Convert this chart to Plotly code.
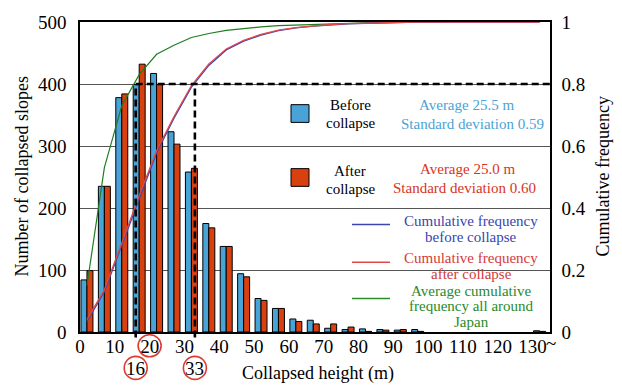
import plotly.graph_objects as go

# Bin centres (m) of the 5 m height classes; the last class collects 130 m and above
bin_centers = [2, 7, 12, 17, 22, 27, 32, 37, 42, 47, 52, 57, 62, 67, 72, 77, 82, 87, 92, 97,
               102, 107, 112, 117, 122, 127, 132]

# Number of collapsed slopes per class
count_before = [84, 235, 378, 399, 417, 323, 258, 175, 138, 94, 54, 38, 21, 19, 6, 4, 5, 4, 3, 4,
                None, None, None, None, None, None, 2]
count_after = [99, 235, 384, 432, 399, 303, 264, 168, 138, 89, 51, 38, 17, 13, 13, 8, 1, 3, 4, 1,
               None, None, None, None, None, None, 1]

# Cumulative frequency curves
cum_before = [0.034, 0.13, 0.28, 0.43, 0.578, 0.69, 0.79, 0.86, 0.91, 0.938, 0.958, 0.972, 0.981,
              0.987, 0.991, 0.994, 0.996, 0.998, 0.999, 1.0, 1.0, 1.0, 1.0, 1.0, 1.0, 1.0, 1.0]
cum_after = [0.04, 0.136, 0.287, 0.44, 0.585, 0.695, 0.795, 0.865, 0.913, 0.941, 0.96, 0.974, 0.982,
             0.988, 0.992, 0.995, 0.997, 0.998, 0.999, 1.0, 1.0, 1.0, 1.0, 1.0, 1.0, 1.0, 1.0]
cum_japan = [0.15, 0.53, 0.73, 0.83, 0.896, 0.925, 0.95, 0.963, 0.973, 0.979, 0.984, 0.988, 0.99,
             0.993, 0.995, 0.996, 0.997, 0.998, 0.999, 1.0, 1.0, 1.0, 1.0, 1.0, 1.0, 1.0, 1.0]

x_tick_vals = [0, 10, 20, 30, 40, 50, 60, 70, 80, 90, 100, 110, 120, 130]
x_tick_text = ["0", "10", "20", "30", "40", "50", "60", "70", "80", "90", "100", "110", "120", "130"]
y_tick_vals = [0, 100, 200, 300, 400, 500]
y2_tick_vals = [0, 0.2, 0.4, 0.6, 0.8, 1.0]
y2_tick_text = ["0", "0.2", "0.4", "0.6", "0.8", "1"]

# Heights where the cumulative frequency reaches 0.8
h80_japan = 16
h80_slopes = 33
cum_level = 0.8

BLUE = "#4aa3d6"
RED = "#d9400f"
FONT = "Times New Roman, Liberation Serif, DejaVu Serif, serif"

W, H = 622, 390
L, R, T, B = 80, 72, 17, 58
PW, PH = W - L - R, H - T - B


def px(x):
    return (x - L) / PW


def py(y):
    return (H - B - y) / PH


bar_w = 1.72
fig = go.Figure()
fig.add_trace(go.Bar(x=bin_centers, y=count_before, width=bar_w, offset=-bar_w,
                     marker=dict(color=BLUE, line=dict(color="black", width=1)), name="Before"))
fig.add_trace(go.Bar(x=bin_centers, y=count_after, width=bar_w, offset=0,
                     marker=dict(color=RED, line=dict(color="black", width=1)), name="After"))
fig.add_trace(go.Scatter(x=bin_centers, y=cum_japan, yaxis="y2", mode="lines",
                         line=dict(color="#1f7d1f", width=1.2)))
fig.add_trace(go.Scatter(x=bin_centers, y=cum_before, yaxis="y2", mode="lines",
                         line=dict(color="#3a45b0", width=1.3)))
fig.add_trace(go.Scatter(x=bin_centers, y=cum_after, yaxis="y2", mode="lines",
                         line=dict(color="#e04848", width=1.3)))

shapes = []
# White panel behind the line legend
shapes.append(dict(type="rect", xref="paper", yref="paper", x0=px(350), x1=px(536),
                   y0=py(326), y1=py(209), fillcolor="white", line=dict(width=0), layer="between"))
# 0.8 reference dashes
dash = dict(color="black", width=2.6, dash="7px,4px")
shapes.append(dict(type="line", xref="x", yref="y2", x0=h80_japan, x1=135, y0=cum_level, y1=cum_level,
                   line=dash, layer="above"))
for h in (h80_japan, h80_slopes):
    shapes.append(dict(type="line", xref="x", yref="paper", x0=h, x1=h, y0=-0.018, y1=cum_level,
                       line=dash, layer="above"))
# Legend squares
shapes.append(dict(type="rect", xref="paper", yref="paper", x0=px(291), x1=px(309), y0=py(119), y1=py(101),
                   fillcolor=BLUE, line=dict(color="black", width=1)))
shapes.append(dict(type="rect", xref="paper", yref="paper", x0=px(291), x1=px(309), y0=py(184), y1=py(166),
                   fillcolor=RED, line=dict(color="black", width=1)))
# Legend line samples
for yy, col in ((222.7, "#3a45b0"), (261, "#e04848"), (298, "#2a8f2a")):
    shapes.append(dict(type="line", xref="paper", yref="paper", x0=px(352), x1=px(390), y0=py(yy), y1=py(yy),
                       line=dict(color=col, width=1.5)))
# Red circles around the highlighted heights
circ = dict(color="#e03a30", width=1.6)
shapes.append(dict(type="circle", xref="x", yref="paper", xsizemode="pixel", ysizemode="pixel",
                   xanchor=20, yanchor=py(346), x0=-11.5, x1=11.5, y0=-11, y1=11, line=circ))
for h in (h80_japan, h80_slopes):
    shapes.append(dict(type="circle", xref="x", yref="paper", xsizemode="pixel", ysizemode="pixel",
                       xanchor=h, yanchor=py(368.5), x0=-11.5, x1=11.5, y0=-11.5, y1=11.5, line=circ))

ann = []


def text(x, y, s, size=15, color="black", angle=0):
    ann.append(dict(x=px(x), y=py(y), xref="paper", yref="paper", text=s, showarrow=False, textangle=angle,
                    font=dict(family=FONT, size=size, color=color), xanchor="center", yanchor="middle"))


text(350, 101, "Before")
text(350, 120, "collapse")
text(466, 101, "Average 25.5 m", color="#4aa3d6")
text(472, 121, "Standard deviation 0.59", color="#4aa3d6")
text(350, 168, "After")
text(350, 187, "collapse")
text(467, 166, "Average 25.0 m", color="#d8341c")
text(464, 186, "Standard deviation 0.60", color="#d8341c")
text(471, 219, "Cumulative frequency", color="#3a45b0")
text(471, 235, "before collapse", color="#3a45b0")
text(471, 257, "Cumulative frequency", color="#d43a3a")
text(471, 273, "after collapse", color="#d43a3a")
text(471, 290, "Average cumulative", color="#2a8a2a")
text(471, 306, "frequency all around", color="#2a8a2a")
text(471, 322, "Japan", color="#2a8a2a")

# Axis titles
text(318, 374, "Collapsed height (m)", size=18)
text(22, 174, "Number of collapsed slopes", size=18, angle=-90)
text(603, 174, "Cumulative frequency", size=18, angle=-90)

for h in (h80_japan, h80_slopes):
    ann.append(dict(x=h, y=py(369), xref="x", yref="paper", text=str(h), showarrow=False,
                    font=dict(family=FONT, size=19, color="black"), xanchor="center", yanchor="middle"))
ann.append(dict(x=130, y=py(344), xref="x", yref="paper", text="~", showarrow=False, xshift=11,
                font=dict(family=FONT, size=19, color="black"), yanchor="middle", xanchor="left"))

tick_font = dict(family=FONT, size=19, color="black")
fig.update_layout(
    width=W, height=H, margin=dict(l=L, r=R, t=T, b=B),
    paper_bgcolor="white", plot_bgcolor="white",
    showlegend=False, barmode="overlay",
    shapes=shapes, annotations=ann,
    xaxis=dict(range=[0, 135], tickvals=x_tick_vals, ticktext=x_tick_text, showgrid=False,
               zeroline=False, showline=True, linecolor="black", linewidth=1.5, mirror=True,
               ticks="", tickfont=tick_font, ticklabelstandoff=-4),
    yaxis=dict(range=[0, 500], tickvals=y_tick_vals, showgrid=True, gridcolor="#555555", gridwidth=1.4,
               zeroline=False, showline=True, linecolor="black", linewidth=1.5, ticks="",
               tickfont=tick_font, ticklabelstandoff=8),
    yaxis2=dict(range=[0, 1], tickvals=y2_tick_vals, ticktext=y2_tick_text, overlaying="y", side="right",
                showgrid=False, zeroline=False, showline=True, linecolor="black", linewidth=1.5,
                ticks="", tickfont=tick_font, ticklabelstandoff=6),
)

fig.write_html("out.html")
